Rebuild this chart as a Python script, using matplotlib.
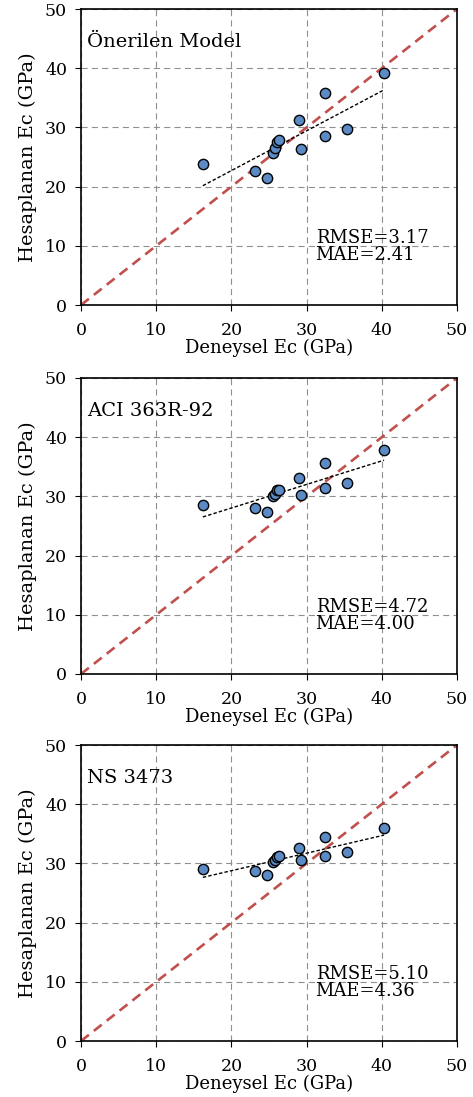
import numpy as np
import matplotlib.pyplot as plt

plt.rcParams["font.family"] = ["DejaVu Serif"]

# Experimental modulus (shared x values)
deneysel = [16.2, 23.1, 24.8, 25.5, 25.8, 26.0, 26.3, 29.0, 29.3, 32.4, 32.4, 35.4, 40.3]

# Predicted modulus per model
onerilen = [23.8, 22.7, 21.5, 25.7, 26.5, 27.6, 27.9, 31.3, 26.4, 35.8, 28.5, 29.8, 39.2]
aci = [28.6, 28.0, 27.3, 30.0, 30.4, 31.0, 31.1, 33.1, 30.2, 35.7, 31.4, 32.3, 37.8]
ns = [29.1, 28.7, 28.1, 30.2, 30.5, 31.0, 31.2, 32.6, 30.5, 34.5, 31.3, 31.9, 35.9]

titles = ["Önerilen Model", "ACI 363R-92", "NS 3473"]
rmse = ["3.17", "4.72", "5.10"]
mae = ["2.41", "4.00", "4.36"]

W, H = 473, 1097
fig = plt.figure(figsize=(W / 100, H / 100), dpi=100)

tops = [9, 378, 745]
left, right = 81, 457
ax_h = 296

for top, pred, title, r, m in zip(tops, [onerilen, aci, ns], titles, rmse, mae):
    ax = fig.add_axes([left / W, 1 - (top + ax_h) / H, (right - left) / W, ax_h / H])
    ax.set_xlim(0, 50)
    ax.set_ylim(0, 50)
    ax.set_xticks(range(0, 51, 10))
    ax.set_yticks(range(0, 51, 10))
    ax.grid(True, color="#8f8f8f", linestyle=(0, (5.5, 3.8)), linewidth=0.8)
    ax.set_axisbelow(True)
    for s in ax.spines.values():
        s.set_linewidth(1.2)
    ax.tick_params(labelsize=12.5, length=4, direction="out")
    ax.tick_params(axis="x", pad=8)
    ax.tick_params(axis="y", pad=6)

    # 1:1 line
    ax.plot([0, 50], [0, 50], color="#C0504D", linestyle=(0, (3.8, 2.4)), linewidth=1.9, zorder=2)

    # linear trend
    x = np.array(deneysel)
    y = np.array(pred)
    k, b = np.polyfit(x, y, 1)
    xx = np.array([x.min(), x.max()])
    ax.plot(xx, k * xx + b, color="black", linestyle=(0, (2.5, 1.5)), linewidth=1.0, zorder=3)

    ax.scatter(x, y, s=55, color="#5B8AC4", edgecolor="black", linewidth=1.0, zorder=4)

    ax.text(0.8, 44.5, title, fontsize=14, va="center", ha="left")
    ax.text(31.2, 11.3, f"RMSE={r}", fontsize=13, va="center", ha="left")
    ax.text(31.2, 8.5, f"MAE={m}", fontsize=13, va="center", ha="left")

    ax.set_xlabel("Deneysel Ec (GPa)", fontsize=13, labelpad=0)
    ax.set_ylabel("Hesaplanan Ec (GPa)", fontsize=14, labelpad=6)

fig.savefig("out.png", dpi=100)
